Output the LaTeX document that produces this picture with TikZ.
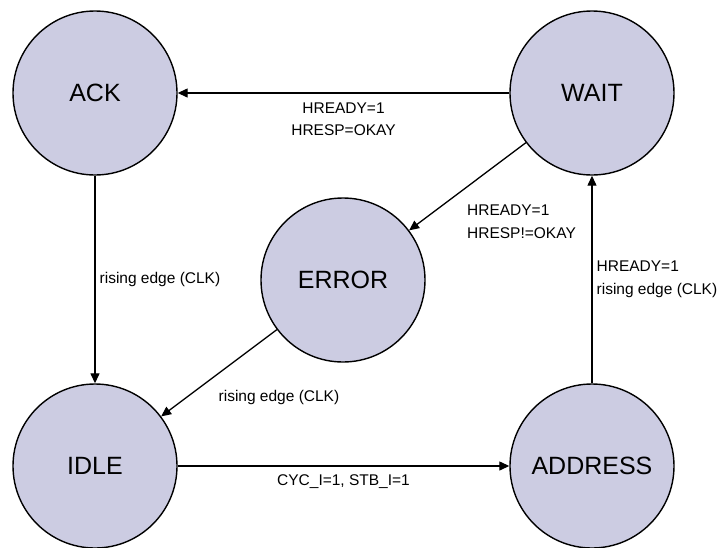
\documentclass[tikz,border=0pt]{standalone}
\usepackage{fontspec}
\setmainfont{Liberation Sans}
\usepackage{xcolor}
\definecolor{statefill}{RGB}{204,204,226}
\usetikzlibrary{arrows.meta, positioning}

\begin{document}
\begin{tikzpicture}[x=1pt, y=-1pt,
  snode/.style={circle, draw=black, line width=1.4pt, fill=statefill, minimum size=164pt, inner sep=0pt, font=\fontsize{25}{30}\selectfont},
  tnode/.style={font=\fontsize{15.5}{22.5}\selectfont, inner sep=3pt},
  trans/.style={-{Triangle[length=10pt, width=9pt]}, line width=1.3pt}
]
\useasboundingbox (0,0) rectangle (721,547);
% states
\node[snode] (ack) at (95, 93) {ACK};
\node[snode] (wait) at (592, 93) {WAIT};
\node[snode] (error) at (343, 280) {ERROR};
\node[snode] (idle) at (95, 466) {IDLE};
\node[snode] (address) at (592, 466) {ADDRESS};
% transitions
\draw[trans] (wait.west) -- node[tnode, midway, below, align=center, yshift=-6pt] {HREADY=1\\HRESP=OKAY} (ack.east);
\draw[trans] (ack.south) -- node[tnode, midway, right, inner sep=4pt] {rising edge (CLK)} (idle.north);
\draw[trans] (wait) -- node[tnode, midway, below right, align=left, xshift=-4pt, yshift=-15pt] {HREADY=1\\HRESP!=OKAY} (error);
\draw[trans] (error) -- node[tnode, midway, below right, xshift=-4pt, yshift=-14pt] {rising edge (CLK)} (idle);
\draw[trans] (idle.east) -- node[tnode, midway, below, yshift=-5pt] {CYC\_I=1, STB\_I=1} (address.west);
\draw[trans] (address.north) -- node[tnode, midway, right, align=left, inner sep=4pt] {HREADY=1\\rising edge (CLK)} (wait.south);
\end{tikzpicture}
\end{document}
